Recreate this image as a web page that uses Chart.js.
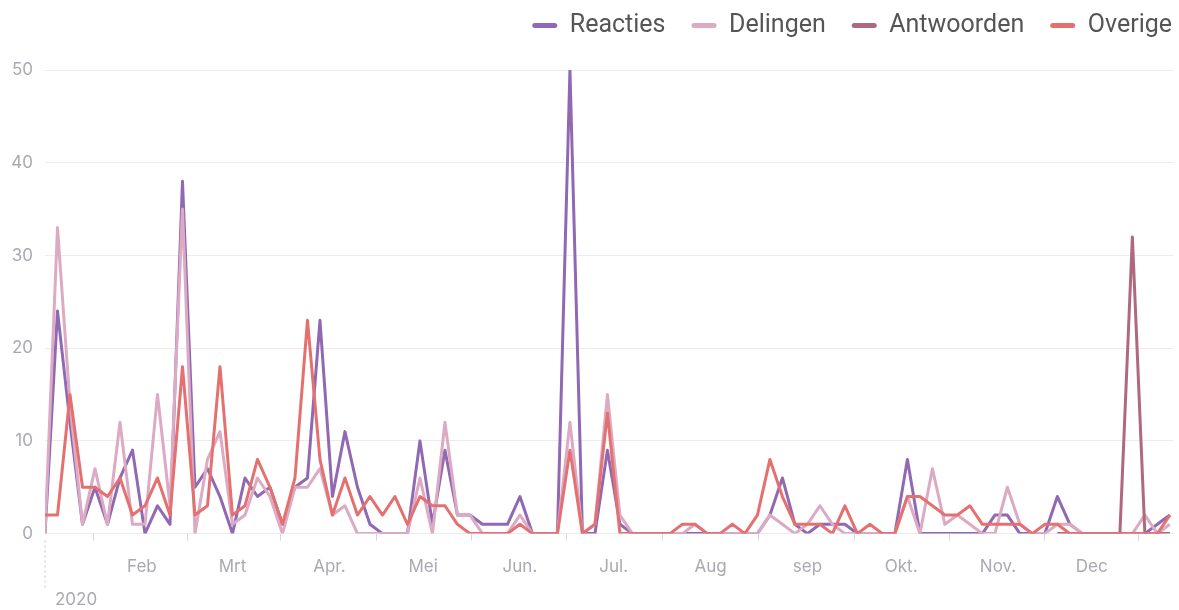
<!DOCTYPE html>
<html>
<head>
<meta charset="utf-8">
<script src="https://cdn.jsdelivr.net/npm/chart.js@4/dist/chart.umd.min.js"></script>
<style>
  html, body { margin: 0; padding: 0; background: #ffffff; overflow: hidden; }
  #wrap { position: relative; width: 1179px; height: 610px; overflow: hidden; }
  #inner { position: absolute; left: 0; top: -13px; width: 1198px; height: 623px; }
</style>
</head>
<body>
<div id="wrap"><div id="inner"><canvas id="c"></canvas></div></div>
<script>
// ---- data (one point every 4 days, starting 1 Jan 2020) ----
const stepDays = 4;
const yearLabel = '2020';
const monthStartDays = [0, 31, 60, 91, 121, 152, 182, 213, 244, 274, 305, 335];
const monthLabels = ['', 'Feb', 'Mrt', 'Apr.', 'Mei', 'Jun.', 'Jul.', 'Aug', 'sep', 'Okt.', 'Nov.', 'Dec'];
const seriesNames = ['Reacties', 'Delingen', 'Antwoorden', 'Overige'];

const reacties = [
  0, 24, 12, 1, 5, 1, 6, 9, 0, 3,
  1, 38, 5, 7, 4, 0, 6, 4, 5, 1,
  5, 6, 23, 4, 11, 5, 1, 0, 0, 0,
  10, 1, 9, 2, 2, 1, 1, 1, 4, 0,
  0, 0, 50, 0, 0, 9, 1, 0, 0, 0,
  0, 0, 0, 0, 0, 0, 0, 0, 2, 6,
  1, 0, 1, 1, 1, 0, 0, 0, 0, 8,
  0, 0, 0, 0, 0, 0, 2, 2, 0, 0,
  0, 4, 1, 0, 0, 0, 0, 0, 0, 1,
  2
];
const delingen = [
  0, 33, 14, 1, 7, 1, 12, 1, 1, 15,
  3, 35, 0, 8, 11, 1, 2, 6, 4, 0,
  5, 5, 7, 2, 3, 0, 0, 0, 0, 0,
  6, 0, 12, 2, 2, 0, 0, 0, 2, 0,
  0, 0, 12, 0, 1, 15, 2, 0, 0, 0,
  0, 0, 1, 0, 0, 0, 0, 0, 2, 1,
  0, 1, 3, 1, 0, 0, 0, 0, 0, 4,
  0, 7, 1, 2, 1, 0, 0, 5, 1, 0,
  0, 1, 1, 0, 0, 0, 0, 0, 2, 0,
  1
];
const antwoorden = [
  null, null, null, null, null, null, null, null, null, null,
  null, null, null, null, null, null, null, null, null, null,
  null, null, null, null, null, null, null, null, null, null,
  null, null, null, null, null, null, null, null, null, null,
  null, null, null, null, null, null, null, null, null, null,
  null, null, null, null, null, null, null, null, null, null,
  null, null, null, null, null, null, null, null, null, null,
  null, null, null, null, null, null, null, null, null, null,
  null, 0, 0, 0, 0, 0, 0, 32, 0, 0,
  0
];
const overige = [
  2, 2, 15, 5, 5, 4, 6, 2, 3, 6,
  2, 18, 2, 3, 18, 2, 3, 8, 5, 1,
  6, 23, 8, 2, 6, 2, 4, 2, 4, 1,
  4, 3, 3, 1, 0, 0, 0, 0, 1, 0,
  0, 0, 9, 0, 1, 13, 0, 0, 0, 0,
  0, 1, 1, 0, 0, 1, 0, 2, 8, 4,
  1, 1, 1, 0, 3, 0, 1, 0, 0, 4,
  4, 3, 2, 2, 3, 1, 1, 1, 1, 0,
  1, 1, 0, 0, 0, 0, 0, 0, 0, 0,
  2
];

// ---- styling ----
const colors = ['#9069b2', '#dcaac3', '#b0687f', '#e4716f'];
const drawOrder = [4, 3, 2, 1];
const axisColor = '#a9a9b3';
const gridColor = '#ececf0';

const allSeries = [reacties, delingen, antwoorden, overige];
const toPoints = arr => arr.map((v, i) => ({ x: i * stepDays, y: v }));

const datasets = allSeries.map((arr, k) => ({
  label: seriesNames[k],
  data: toPoints(arr),
  borderColor: colors[k],
  backgroundColor: colors[k],
  borderWidth: 3,
  pointRadius: 0,
  pointHoverRadius: 0,
  tension: 0,
  borderJoinStyle: 'round',
  spanGaps: false,
  order: drawOrder[k]
}));

const legendSpacer = {
  id: 'legendSpacer',
  beforeInit(chart) {
    const origFit = chart.legend.fit;
    chart.legend.fit = function () {
      origFit.bind(chart.legend)();
      this.height += 22;
    };
  }
};

const yearMarker = {
  id: 'yearMarker',
  afterDraw(chart) {
    const { ctx, chartArea, scales } = chart;
    const x0 = scales.x.getPixelForValue(monthStartDays[0]);
    ctx.save();
    ctx.strokeStyle = '#c4c4cc';
    ctx.lineWidth = 1;
    ctx.setLineDash([2, 3]);
    ctx.beginPath();
    ctx.moveTo(x0, chartArea.bottom + 7);
    ctx.lineTo(x0, chartArea.bottom + 57);
    ctx.stroke();
    ctx.setLineDash([]);
    ctx.fillStyle = axisColor;
    ctx.font = '17px Inter';
    ctx.textBaseline = 'middle';
    ctx.textAlign = 'left';
    ctx.fillText(yearLabel, x0 + 10, chartArea.bottom + 66);
    ctx.restore();
  }
};

new Chart(document.getElementById('c'), {
  type: 'line',
  data: { datasets },
  plugins: [legendSpacer, yearMarker],
  options: {
    responsive: true,
    maintainAspectRatio: false,
    animation: false,
    events: [],
    layout: { padding: { left: 0, right: 0, top: 0, bottom: 17 } },
    plugins: {
      tooltip: { enabled: false },
      legend: {
        position: 'top',
        align: 'end',
        labels: {
          font: { family: 'Roboto', size: 25 },
          color: '#555555',
          boxWidth: 25,
          boxHeight: 5,
          padding: 26,
          useBorderRadius: true,
          borderRadius: 2.5,
          sort: (a, b) => a.datasetIndex - b.datasetIndex,
          generateLabels(chart) {
            const items = Chart.defaults.plugins.legend.labels.generateLabels(chart);
            items.forEach(it => { it.lineWidth = 0; it.fillStyle = it.strokeStyle; });
            return items;
          }
        }
      }
    },
    scales: {
      x: {
        type: 'linear',
        min: 0,
        max: 361,
        afterBuildTicks(scale) {
          scale.ticks = monthStartDays.map(v => ({ value: v }));
        },
        ticks: {
          autoSkip: false,
          maxRotation: 0,
          padding: 16,
          color: axisColor,
          font: { family: 'Inter', size: 17 },
          callback: (value, index) => monthLabels[index]
        },
        grid: {
          offset: true,
          drawOnChartArea: false,
          drawTicks: true,
          tickLength: 7,
          color: '#d6d6dc'
        },
        border: { display: false }
      },
      y: {
        min: 0,
        max: 50,
        afterFit(scale) { scale.width = 45; },
        ticks: {
          stepSize: 10,
          padding: 12,
          color: axisColor,
          font: { family: 'Inter', size: 17 }
        },
        grid: { color: gridColor, drawTicks: false, lineWidth: 1 },
        border: { display: false }
      },
      yRight: {
        position: 'right',
        display: true,
        afterFit(scale) { scale.width = 25; },
        ticks: { display: false },
        grid: { display: false, drawTicks: false },
        border: { display: false }
      }
    }
  }
});
</script>
</body>
</html>
